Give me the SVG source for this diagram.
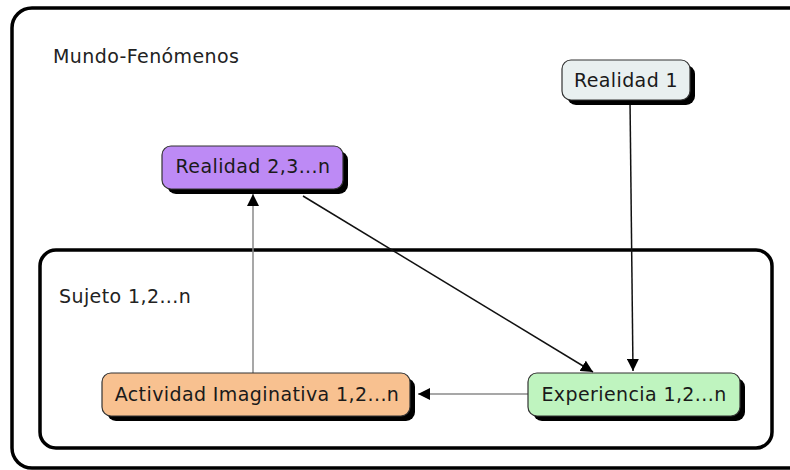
<svg xmlns="http://www.w3.org/2000/svg" width="790" height="470" viewBox="0 0 790 470">
<defs>
<style>
.frame{fill:#ffffff;stroke:#000;stroke-width:3.5}
.shadow{fill:#000}
.node{stroke:#333;stroke-width:1.2}
.lbl{font-family:"DejaVu Sans",Verdana,sans-serif;font-size:19px;letter-spacing:0.4px;fill:#222}
.nl{font-family:"DejaVu Sans",Verdana,sans-serif;font-size:19px;letter-spacing:0.4px;fill:#1a1a1a;text-anchor:middle}
.dark{stroke:#111;stroke-width:1.5;fill:none}
.gray{stroke:#8a8a8a;stroke-width:1.5;fill:none}
</style>
<marker id="arr" viewBox="0 0 12 12" refX="12" refY="6" markerWidth="12" markerHeight="12" markerUnits="userSpaceOnUse" orient="auto">
<path d="M0,0 L12,6 L0,12 Z" fill="#000"/>
</marker>
</defs>
<rect width="790" height="470" fill="#ffffff"/>
<g id="mundo">
<rect class="frame" x="12" y="8" width="800" height="460" rx="20"/>
<text class="lbl" x="53" y="63">Mundo-Fenómenos</text>
</g>
<g id="sujeto">
<rect class="frame" x="40" y="250" width="732" height="198" rx="16"/>
<text class="lbl" x="59" y="303">Sujeto 1,2...n</text>
</g>
<g id="connectors">
<line class="gray" x1="253" y1="373" x2="253" y2="194" marker-end="url(#arr)"/>
<line class="dark" x1="303" y1="196" x2="593" y2="372" marker-end="url(#arr)"/>
<line class="dark" x1="630" y1="100" x2="633" y2="371" marker-end="url(#arr)"/>
<line class="gray" x1="528" y1="394" x2="418" y2="394" marker-end="url(#arr)"/>
</g>
<g id="realidad1">
<rect class="shadow" x="567" y="65" width="128" height="40" rx="9"/>
<rect class="node" x="562" y="60" width="128" height="40" rx="9" fill="#e9f0f0"/>
<text class="nl" x="626" y="87">Realidad 1</text>
</g>
<g id="realidad2">
<rect class="shadow" x="167" y="151" width="181" height="43" rx="9"/>
<rect class="node" x="162" y="146" width="181" height="43" rx="9" fill="#bd8af5"/>
<text class="nl" x="253" y="173">Realidad 2,3...n</text>
</g>
<g id="actividad">
<rect class="shadow" x="107" y="378" width="308" height="43" rx="9"/>
<rect class="node" x="102" y="373" width="308" height="43" rx="9" fill="#f8c190"/>
<text class="nl" x="257" y="401">Actividad Imaginativa 1,2...n</text>
</g>
<g id="experiencia">
<rect class="shadow" x="533" y="378" width="212" height="43" rx="9"/>
<rect class="node" x="528" y="373" width="212" height="43" rx="9" fill="#bff4bf"/>
<text class="nl" x="634" y="401">Experiencia 1,2...n</text>
</g>
</svg>
